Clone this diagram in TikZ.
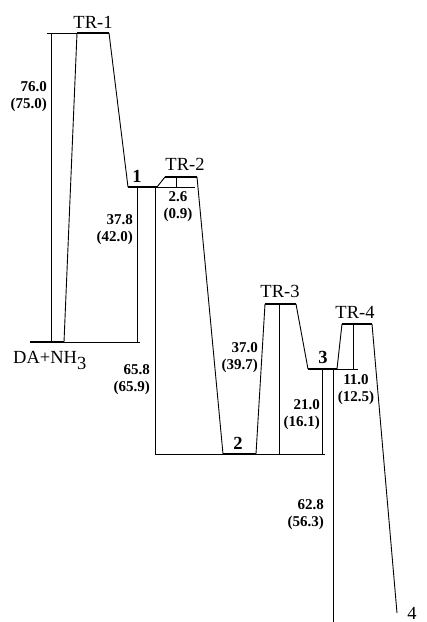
\documentclass[tikz,border=0pt]{standalone}
\usepackage{fontspec}
\setmainfont{Liberation Serif}
\begin{document}
\begin{tikzpicture}[x=1pt,y=-1pt,
  thin line/.style={line width=0.9pt},
  level/.style={line width=2.6pt},
  lab/.style={font=\fontsize{18.5}{20}\selectfont, inner sep=0pt},
  val/.style={font=\fontsize{15}{17}\selectfont\bfseries, align=right, inner sep=0pt}]
\useasboundingbox (0,0) rectangle (427,622);
% level coordinates
\coordinate (da1) at (30,342);  \coordinate (da2) at (64,342);
\coordinate (t11) at (77,33);   \coordinate (t12) at (109,33);
\coordinate (m11) at (128,187); \coordinate (m12) at (157,187);
\coordinate (t21) at (165,177); \coordinate (t22) at (197,177);
\coordinate (m21) at (223,454); \coordinate (m22) at (256,454);
\coordinate (t31) at (265,304); \coordinate (t32) at (296,304);
\coordinate (m31) at (308,369); \coordinate (m32) at (337,369);
\coordinate (t41) at (342,324); \coordinate (t42) at (372,324);
\coordinate (m4) at (397,613);
% levels
\foreach \a/\b in {da1/da2,t11/t12,m11/m12,t21/t22,m21/m22,t31/t32,m31/m32,t41/t42}
  \draw[level] (\a) -- (\b);
% connectors
\draw[thin line] (da2) -- (t11) (t12) -- (m11) (m12) -- (t21) (t22) -- (m21)
  (m22) -- (t31) (t32) -- (m31) (m32) -- (t41) (t42) -- (m4);
% reference lines
\draw[thin line] (47,33) -- (t11);
\draw[thin line] (51,33) -- (51,342);
\draw[thin line] (da2) -- (140,342);
\draw[thin line] (137,342) -- (137,187);
\draw[thin line] (m12) -- (195,187);
\draw[thin line] (176,177) -- (176,187);
\draw[thin line] (155,187) -- (155,454);
\draw[thin line] (155,454) -- (m21) (m22) -- (325,454);
\draw[thin line] (279,304) -- (279,454);
\draw[thin line] (322,369) -- (322,454);
\draw[thin line] (m32) -- (358,369);
\draw[thin line] (353,324) -- (353,369);
\draw[thin line] (333,369) -- (333,622);
% labels
\node[lab] (lTR1) at (93,22) {TR-1};
\node[lab] (lTR2) at (185,164) {TR-2};
\node[lab] (lTR3) at (280,291) {TR-3};
\node[lab] (lTR4) at (355,312) {TR-4};
\node[lab,font=\fontsize{18.5}{20}\selectfont\bfseries] (l1) at (137,176) {1};
\node[lab,font=\fontsize{18.5}{20}\selectfont\bfseries] (l2) at (238,443) {2};
\node[lab,font=\fontsize{18.5}{20}\selectfont\bfseries] (l3) at (323,357) {3};
\node[lab] (l4) at (412,613) {4};
\node[lab,anchor=base west] (lDA) at (13,363) {DA+NH\raisebox{-6pt}{3}};
% values
\node[val,anchor=east] (v1) at (47,97) {76.0\\(75.0)};
\node[val,anchor=east] (v2) at (133,230) {37.8\\(42.0)};
\node[val,align=center] (v3) at (178,207) {2.6\\(0.9)};
\node[val,anchor=east] (v4) at (150,380) {65.8\\(65.9)};
\node[val,anchor=east] (v5) at (258,358) {37.0\\(39.7)};
\node[val,anchor=east] (v6) at (320,415) {21.0\\(16.1)};
\node[val,align=center] (v7) at (356,390) {11.0\\(12.5)};
\node[val,anchor=east] (v8) at (324,515) {62.8\\(56.3)};
\end{tikzpicture}
\end{document}
